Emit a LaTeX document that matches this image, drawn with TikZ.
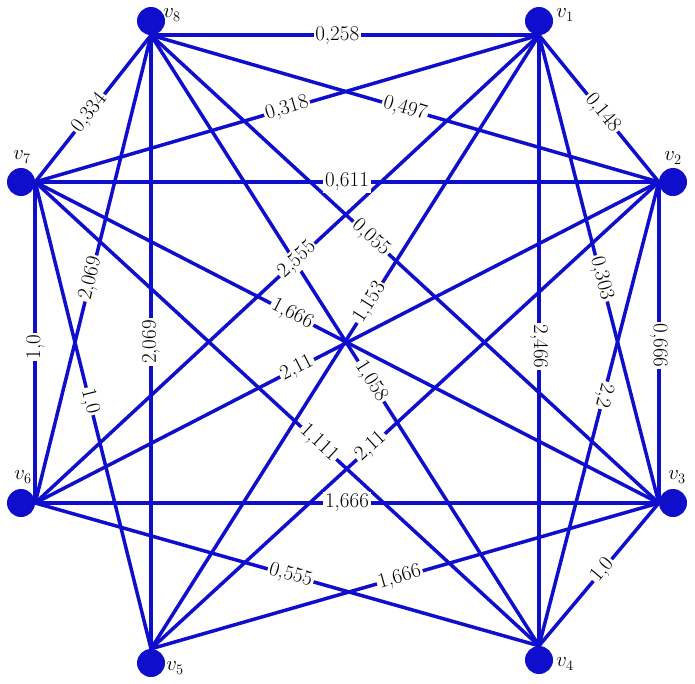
\documentclass[tikz,border=0pt]{standalone}
\definecolor{gblue}{RGB}{14,14,204}
\begin{document}
\begin{tikzpicture}[x=1pt,y=-1pt,
  vert/.style={circle,fill=gblue,draw=none,minimum size=28pt,inner sep=0pt},
  vname/.style={font=\fontsize{22}{26}\selectfont,inner sep=0pt},
  edge/.style={draw=gblue,line width=3.5pt},
  lab/.style={fill=white,inner sep=1.8pt,sloped,font=\fontsize{21}{25}\selectfont}]
\useasboundingbox (0,0) rectangle (695,683);
\node[vert] (v1) at (539,21) {};
\node[vert] (v2) at (673,182) {};
\node[vert] (v3) at (673,503) {};
\node[vert] (v4) at (539,660) {};
\node[vert] (v5) at (151,663) {};
\node[vert] (v6) at (21,503) {};
\node[vert] (v7) at (21,182) {};
\node[vert] (v8) at (151,21) {};
\node[vname] (t1) at (565,15) {$v_1$};
\node[vname] (t2) at (673,158) {$v_2$};
\node[vname] (t3) at (677,477) {$v_3$};
\node[vname] (t4) at (565,664) {$v_4$};
\node[vname] (t5) at (175,668) {$v_5$};
\node[vname] (t6) at (23,477) {$v_6$};
\node[vname] (t7) at (22,157) {$v_7$};
\node[vname] (t8) at (172,15) {$v_8$};
% edges
\draw[edge] (v8.south) -- (v1.south);
\draw[edge] (v8.south) -- (v7.east);
\draw[edge] (v7.east) -- (v1.south);
\draw[edge] (v8.south) -- (v2.west);
\draw[edge] (v7.east) -- (v2.west);
\draw[edge] (v1.south) -- (v2.west);
\draw[edge] (v8.south) -- (v3.west);
\draw[edge] (v1.south) -- (v3.west);
\draw[edge] (v2.west) -- (v3.west);
\draw[edge] (v1.south) -- (v4.north);
\draw[edge] (v2.west) -- (v4.north);
\draw[edge] (v1.south) -- (v5.north);
\draw[edge] (v1.south) -- (v6.east);
\draw[edge] (v2.west) -- (v6.east);
\draw[edge] (v2.west) -- (v5.north);
\draw[edge] (v3.west) -- (v7.east);
\draw[edge] (v4.north) -- (v8.south);
\draw[edge] (v4.north) -- (v7.east);
\draw[edge] (v3.west) -- (v6.east);
\draw[edge] (v3.west) -- (v5.north);
\draw[edge] (v6.east) -- (v4.north);
\draw[edge] (v3.west) -- (v4.north);
\draw[edge] (v6.east) -- (v7.east);
\draw[edge] (v7.east) -- (v5.north);
\draw[edge] (v8.south) -- (v6.east);
\draw[edge] (v5.north) -- (v8.south);
% labels on top
\path (v8.south) -- node[lab,pos=0.48] {0,258} (v1.south);
\path (v8.south) -- node[lab,pos=0.53] {0,334} (v7.east);
\path (v7.east) -- node[lab,pos=0.5] {0,318} (v1.south);
\path (v8.south) -- node[lab,pos=0.5] {0,497} (v2.west);
\path (v7.east) -- node[lab,pos=0.5] {0,611} (v2.west);
\path (v1.south) -- node[lab,pos=0.53] {0,148} (v2.west);
\path (v8.south) -- node[lab,pos=0.433] {0,055} (v3.west);
\path (v1.south) -- node[lab,pos=0.52] {0,303} (v3.west);
\path (v2.west) -- node[lab,pos=0.51,allow upside down] {0,666} (v3.west);
\path (v1.south) -- node[lab,pos=0.51,allow upside down] {2,466} (v4.north);
\path (v2.west) -- node[lab,pos=0.46,allow upside down] {2,2} (v4.north);
\path (v1.south) -- node[lab,pos=0.436] {1,153} (v5.north);
\path (v1.south) -- node[lab,pos=0.48] {2,555} (v6.east);
\path (v2.west) -- node[lab,pos=0.58] {2,11} (v6.east);
\path (v2.west) -- node[lab,pos=0.567] {2,11} (v5.north);
\path (v3.west) -- node[lab,pos=0.588] {1,666} (v7.east);
\path (v4.north) -- node[lab,pos=0.433] {1,058} (v8.south);
\path (v4.north) -- node[lab,pos=0.437] {1,111} (v7.east);
\path (v3.west) -- node[lab,pos=0.5] {1,666} (v6.east);
\path (v3.west) -- node[lab,pos=0.51] {1,666} (v5.north);
\path (v6.east) -- node[lab,pos=0.507] {0,555} (v4.north);
\path (v3.west) -- node[lab,pos=0.47] {1,0} (v4.north);
\path (v6.east) -- node[lab,pos=0.486,allow upside down] {1,0} (v7.east);
\path (v7.east) -- node[lab,pos=0.47] {1,0} (v5.north);
\path (v8.south) -- node[lab,pos=0.52] {2,069} (v6.east);
\path (v5.north) -- node[lab,pos=0.5,allow upside down] {2,069} (v8.south);
\end{tikzpicture}
\end{document}
